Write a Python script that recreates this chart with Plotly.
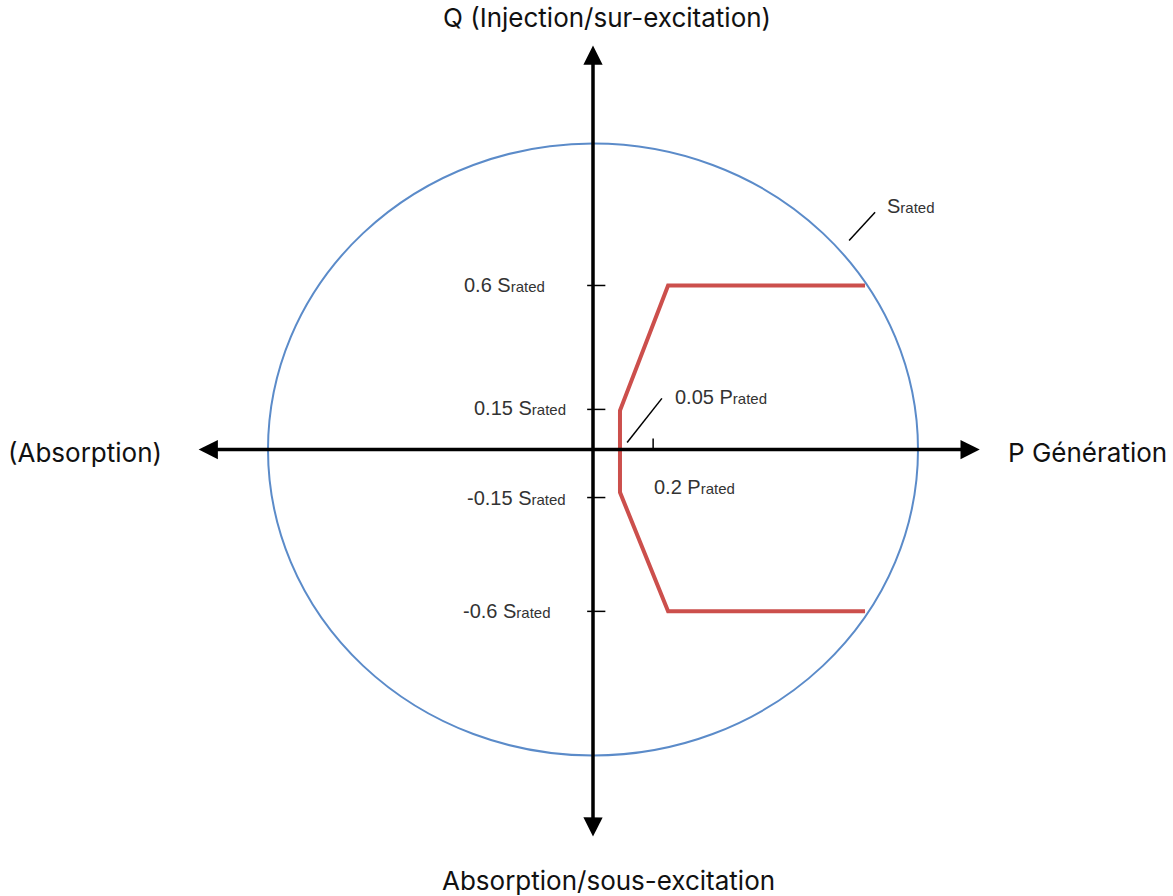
import plotly.graph_objects as go

# --- data (in per-unit of S_rated / P_rated) ---
red_P = [0.837, 0.231, 0.083, 0.083, 0.231, 0.837]
red_Q = [0.536, 0.536, 0.127, -0.140, -0.529, -0.529]
circle_radius = 1.0
q_ticks = [0.536, 0.131, -0.157, -0.529]
q_tick_labels = ["0.6 S", "0.15 S", "-0.15 S", "-0.6 S"]
p_tick = 0.185
p_tick_label = "0.2 P"

W, H = 1173, 896
cx, cy = 593, 449.5
sx, sy = 325, 306
xr = [-cx / sx, (W - cx) / sx]
yr = [(cy - H) / sy, cy / sy]

LBL_FONT = dict(family="Liberation Sans, Arial", size=20, color="#333333")
TITLE_FONT = dict(family="Inter, Lato, sans-serif", size=26, color="#111111")
SUB = "<span style='font-size:15px'>rated</span>"

fig = go.Figure()

# circle S_rated
fig.add_shape(type="circle", xref="x", yref="y",
              x0=-circle_radius, x1=circle_radius, y0=-circle_radius, y1=circle_radius,
              line=dict(color="#5b8bc9", width=2))

# red capability curve
fig.add_trace(go.Scatter(x=red_P, y=red_Q, mode="lines",
                         line=dict(color="#cc4f4c", width=4), hoverinfo="skip",
                         showlegend=False))

# axes with arrows
fig.add_annotation(x=0, y=1.32, ax=0, ay=-1.27, axref="x", ayref="y", xref="x", yref="y",
                   text="", showarrow=True, arrowhead=2, arrowside="end+start",
                   arrowsize=1.1, arrowwidth=3.5, arrowcolor="black")
fig.add_annotation(x=1.19, y=0, ax=-1.218, ay=0, axref="x", ayref="y", xref="x", yref="y",
                   text="", showarrow=True, arrowhead=2, arrowside="end+start",
                   arrowsize=1.1, arrowwidth=3.5, arrowcolor="black")

# ticks on Q axis
for q in q_ticks:
    fig.add_shape(type="line", xref="x", yref="y", x0=-0.018, x1=0.038, y0=q, y1=q,
                  line=dict(color="black", width=1.5))
# tick on P axis
fig.add_shape(type="line", xref="x", yref="y", x0=p_tick, x1=p_tick, y0=0, y1=0.036,
              line=dict(color="black", width=1.5))

# tick labels on Q axis
q_label_x = [-0.1415, -0.077, -0.077, -0.123]
q_label_y = [0.536, 0.137, -0.157, -0.529]
for lx, ly, t in zip(q_label_x, q_label_y, q_tick_labels):
    fig.add_annotation(x=lx, y=ly, xref="x", yref="y", text=t + SUB, showarrow=False,
                       xanchor="right", yanchor="middle", font=LBL_FONT)

fig.add_annotation(x=0.182, y=-0.124, xref="x", yref="y", text=p_tick_label + SUB,
                   showarrow=False, xanchor="left", yanchor="middle", font=LBL_FONT)
fig.add_annotation(x=0.246, y=0.170, xref="x", yref="y", text="0.05 P" + SUB,
                   showarrow=False, xanchor="left", yanchor="middle", font=LBL_FONT)
fig.add_annotation(x=0.898, y=0.797, xref="x", yref="y", text="S" + SUB,
                   showarrow=False, xanchor="left", yanchor="middle", font=LBL_FONT)

# leader lines
fig.add_shape(type="line", xref="x", yref="y", x0=0.105, y0=0.023, x1=0.212, y1=0.167,
              line=dict(color="black", width=1.5))
fig.add_shape(type="line", xref="x", yref="y", x0=0.788, y0=0.683, x1=0.868, y1=0.775,
              line=dict(color="black", width=1.5))

# axis titles
fig.add_annotation(x=607 / W, y=1 - 18 / H, xref="paper", yref="paper",
                   text="Q (Injection/sur-excitation)", showarrow=False,
                   xanchor="center", yanchor="middle", font=TITLE_FONT)
fig.add_annotation(x=608 / W, y=1 - 880 / H, xref="paper", yref="paper",
                   text="Absorption/sous-excitation", showarrow=False,
                   xanchor="center", yanchor="middle", font=TITLE_FONT)
fig.add_annotation(x=6 / W, y=1 - 453 / H, xref="paper", yref="paper",
                   text="(Absorption)", showarrow=False,
                   xanchor="left", yanchor="middle", font=TITLE_FONT)
fig.add_annotation(x=1006 / W, y=1 - 453 / H, xref="paper", yref="paper",
                   text="P Génération", showarrow=False,
                   xanchor="left", yanchor="middle", font=TITLE_FONT)

fig.update_xaxes(range=xr, visible=False, fixedrange=True)
fig.update_yaxes(range=yr, visible=False, fixedrange=True)
fig.update_layout(width=W, height=H, margin=dict(l=0, r=0, t=0, b=0),
                  plot_bgcolor="white", paper_bgcolor="white", showlegend=False,
                  hovermode=False)

fig.write_html("out.html", config={"displayModeBar": False},
               post_script="document.body.style.margin='0';document.body.style.overflow='hidden';")
